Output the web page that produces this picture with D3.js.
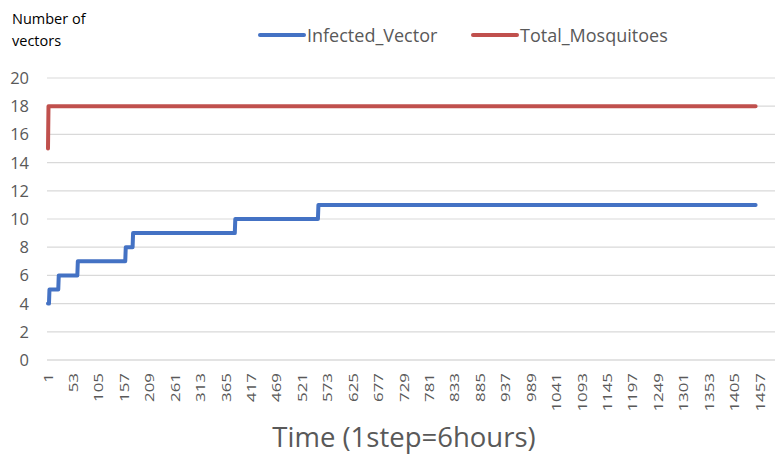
<!DOCTYPE html>
<html>
<head>
<meta charset="utf-8">
<script src="https://cdn.jsdelivr.net/npm/d3@7"></script>
<style>
    body { margin: 0; background: #fff; }
    svg { display: block; font-family: "Open Sans", "Noto Sans", sans-serif; }
</style>
</head>
<body>
<div id="chart"></div>
<script>
// time steps where each series changes value: [step, value]
const infectedChanges = [[1, 4], [4, 5], [23, 6], [62, 7], [160, 8], [175, 9], [384, 10], [554, 11]];
const totalChanges = [[1, 15], [2, 18]];
const lastStep = 1448;
const seriesNames = ["Infected_Vector", "Total_Mosquitoes"];
const seriesColors = ["#4472C4", "#C0504D"];
const yTicks = [0, 2, 4, 6, 8, 10, 12, 14, 16, 18, 20];
const xTickLabels = [1, 53, 105, 157, 209, 261, 313, 365, 417, 469, 521, 573, 625, 677, 729, 781, 833, 885, 937, 989, 1041, 1093, 1145, 1197, 1249, 1301, 1353, 1405, 1457];

const W = 775, H = 454;

// turn change points into line vertices (value holds until the next change)
const toPoints = (changes) => {
    let pts = [];
    changes.forEach((c, i) => {
        if (i > 0) pts.push([c[0] - 1, changes[i - 1][1]]);
        pts.push(c);
    });
    pts.push([lastStep, changes[changes.length - 1][1]]);
    return pts;
}

const svg = d3.select("#chart").append("svg")
    .attr("width", W)
    .attr("height", H);

const x = d3.scaleLinear().domain([1, 1457]).range([48, 760]);
const y = d3.scaleLinear().domain([0, 20]).range([360, 78]);

// gridlines
svg.append("g")
    .selectAll("line")
    .data(yTicks)
    .join("line")
    .attr("x1", 47).attr("x2", W)
    .attr("y1", d => y(d)).attr("y2", d => y(d))
    .style("stroke", d => d == 0 ? "#c8c8c8" : "#d9d9d9")
    .style("stroke-width", 1.2);

// y tick labels
svg.append("g")
    .selectAll("text")
    .data(yTicks)
    .join("text")
    .attr("x", 29)
    .attr("y", d => y(d))
    .attr("dy", "0.36em")
    .attr("text-anchor", "end")
    .style("font-size", "16.5px")
    .style("fill", "#595959")
    .text(d => d);

// x tick labels, rotated (stretched along the text like the original)
svg.append("g")
    .selectAll("text")
    .data(xTickLabels)
    .join("text")
    .attr("transform", d => "translate(" + (x(d) + 4.5) + ",373) rotate(-90) scale(1.3,1)")
    .attr("text-anchor", "end")
    .style("font-size", "13px")
    .style("fill", "#595959")
    .text(d => d);

// lines
const line = d3.line().x(d => x(d[0])).y(d => y(d[1]));
[infectedChanges, totalChanges].forEach((ch, i) => {
    svg.append("path")
        .datum(toPoints(ch))
        .attr("d", line)
        .style("fill", "none")
        .style("stroke", seriesColors[i])
        .style("stroke-width", 4)
        .style("stroke-linejoin", "round")
        .style("stroke-linecap", "round");
});

// y axis title
svg.append("text").attr("x", 12).attr("y", 24)
    .style("font-size", "14.5px").style("fill", "#000").text("Number of");
svg.append("text").attr("x", 12).attr("y", 46)
    .style("font-size", "14.5px").style("fill", "#000").text("vectors");

// legend
const legendX = [260, 473];
seriesNames.forEach((name, i) => {
    svg.append("line")
        .attr("x1", legendX[i]).attr("x2", legendX[i] + 44)
        .attr("y1", 35).attr("y2", 35)
        .style("stroke", seriesColors[i])
        .style("stroke-width", 4)
        .style("stroke-linecap", "round");
    svg.append("text")
        .attr("x", legendX[i] + 47).attr("y", 41.5)
        .style("font-size", "18px")
        .style("fill", "#595959")
        .text(name);
});

// x axis title
svg.append("text")
    .attr("x", 404).attr("y", 447)
    .attr("text-anchor", "middle")
    .style("font-size", "27.5px")
    .style("fill", "#595959")
    .text("Time (1step=6hours)");
</script>
</body>
</html>
